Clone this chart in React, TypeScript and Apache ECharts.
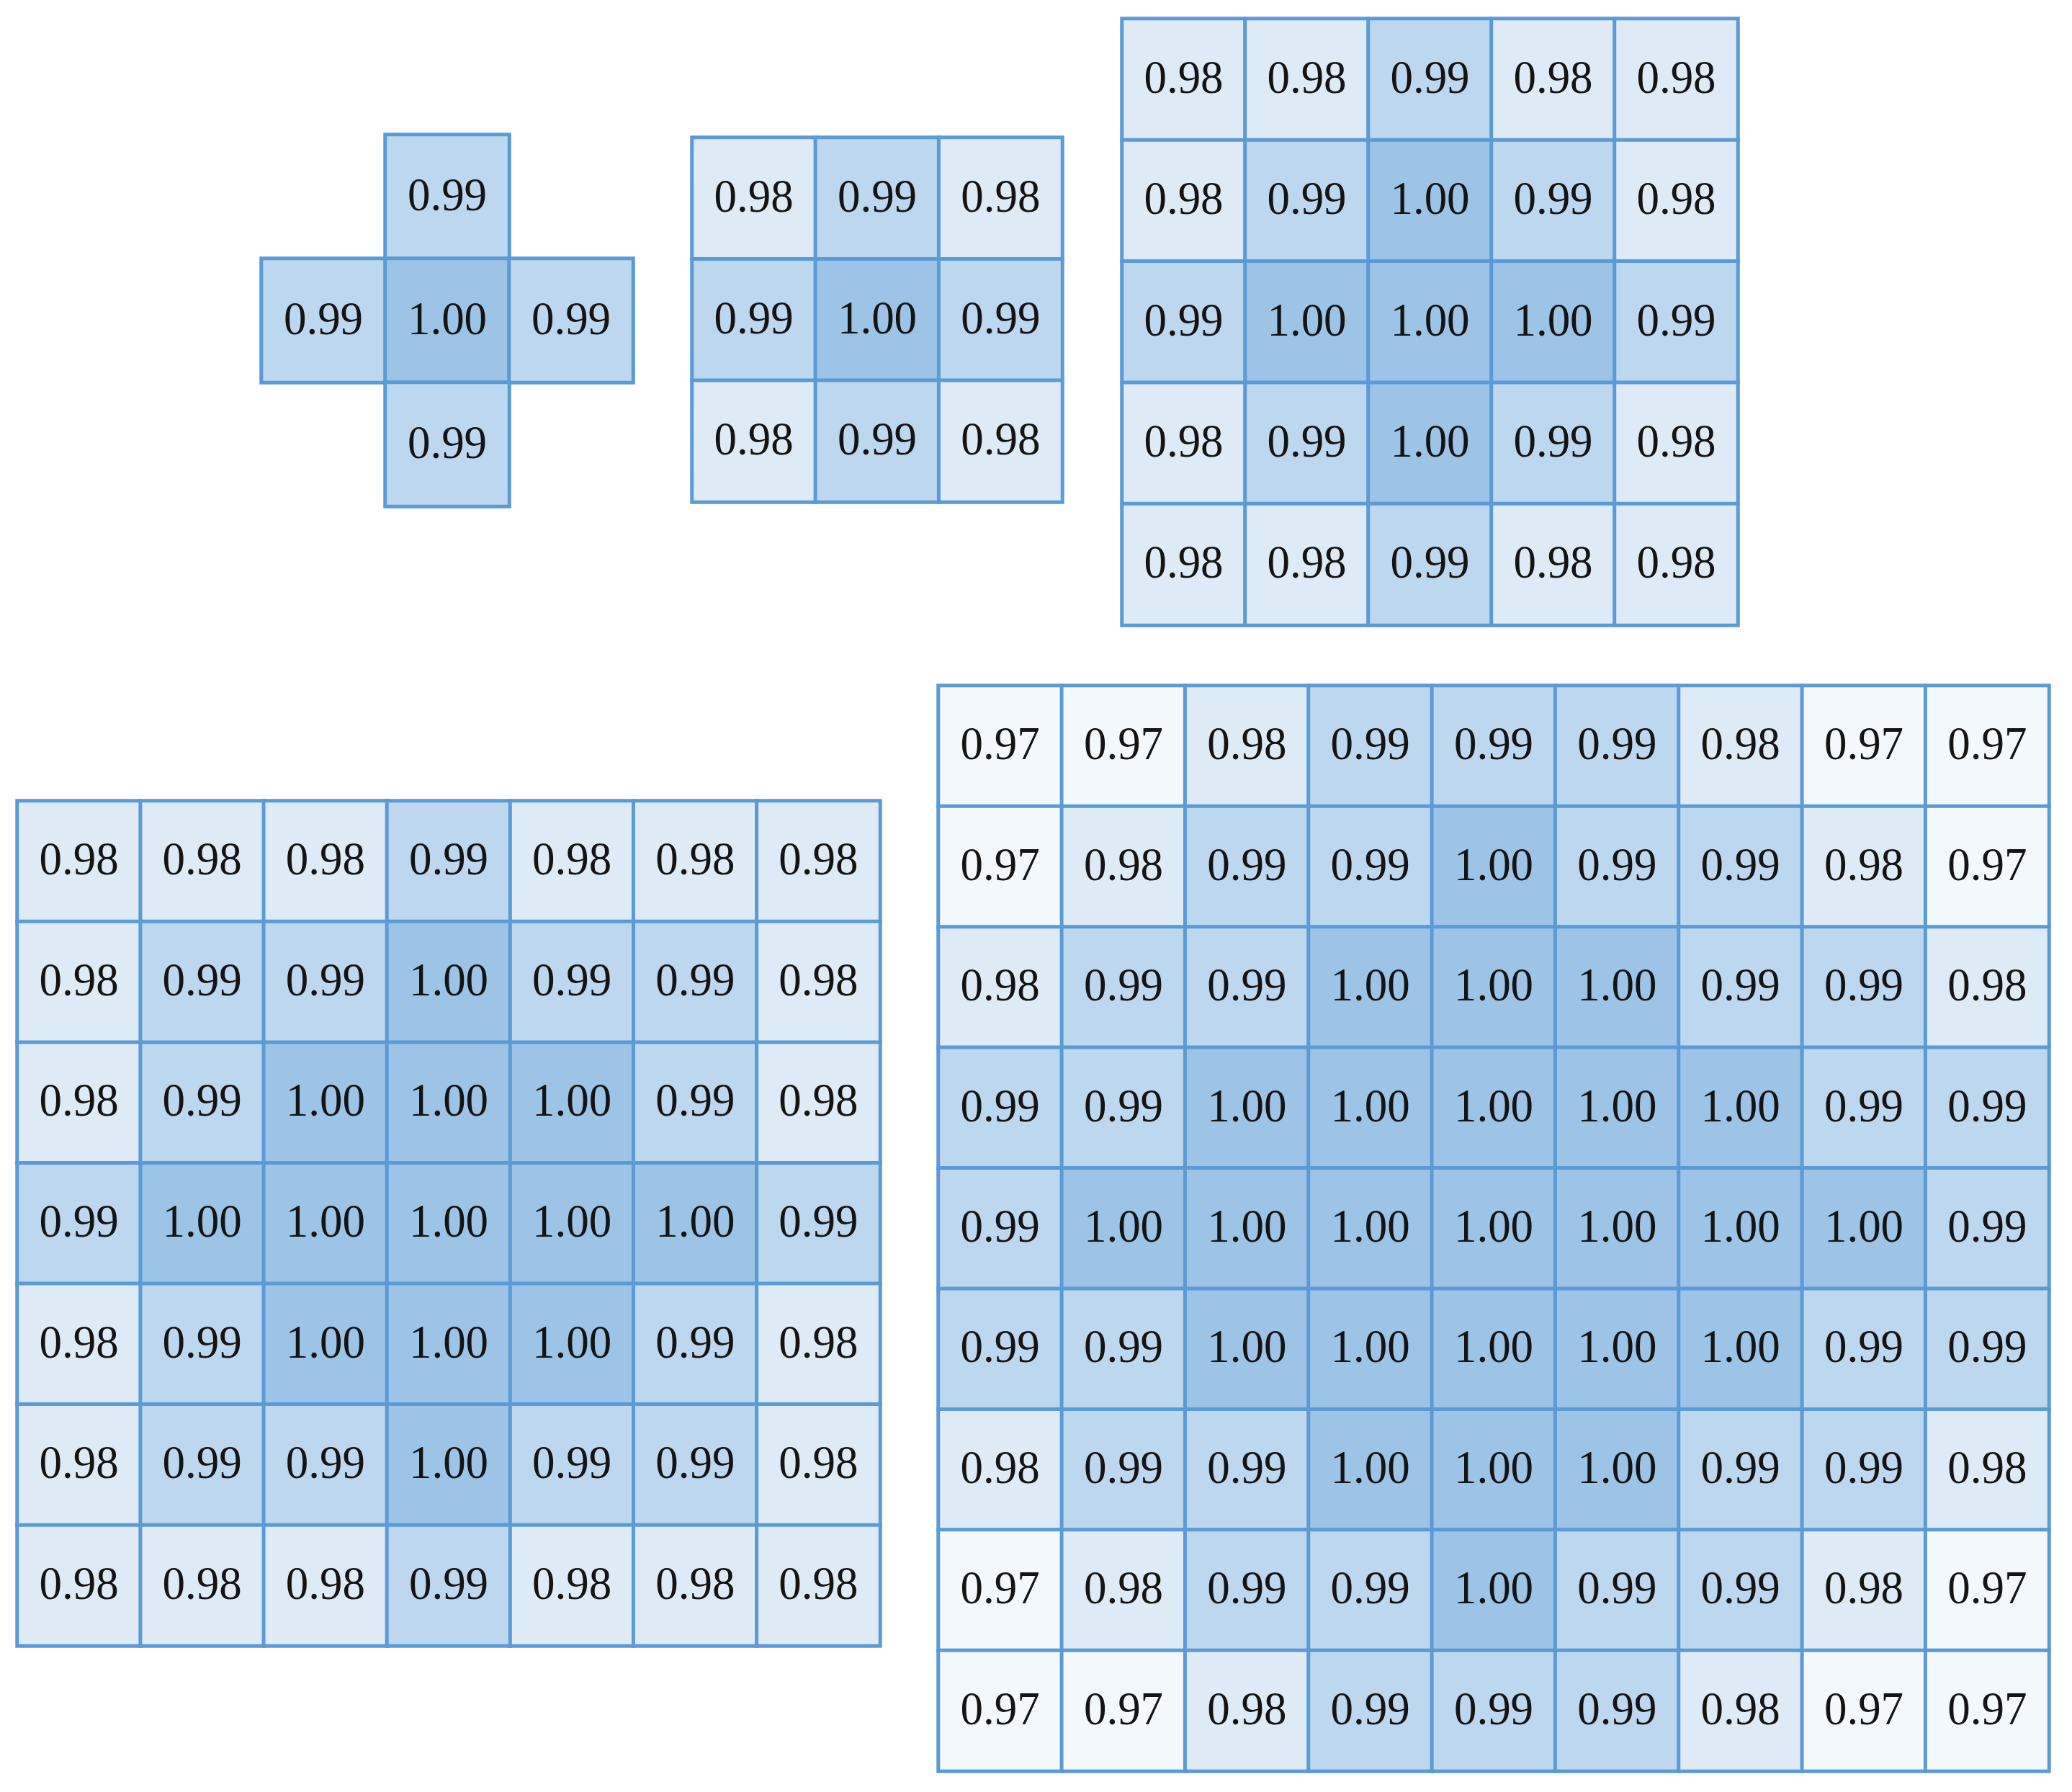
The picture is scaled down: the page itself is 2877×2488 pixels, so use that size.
import React, { useEffect, useRef } from "react";
import * as echarts from "echarts";

// ---- data (rows top to bottom, columns left to right; null = no cell) ----
const plusGrid: (number | null)[][] = [
  [null, 0.99, null],
  [0.99, 1.0, 0.99],
  [null, 0.99, null],
];

const grid3: number[][] = [
  [0.98, 0.99, 0.98],
  [0.99, 1.0, 0.99],
  [0.98, 0.99, 0.98],
];

const grid5: number[][] = [
  [0.98, 0.98, 0.99, 0.98, 0.98],
  [0.98, 0.99, 1.0, 0.99, 0.98],
  [0.99, 1.0, 1.0, 1.0, 0.99],
  [0.98, 0.99, 1.0, 0.99, 0.98],
  [0.98, 0.98, 0.99, 0.98, 0.98],
];

const grid7: number[][] = [
  [0.98, 0.98, 0.98, 0.99, 0.98, 0.98, 0.98],
  [0.98, 0.99, 0.99, 1.0, 0.99, 0.99, 0.98],
  [0.98, 0.99, 1.0, 1.0, 1.0, 0.99, 0.98],
  [0.99, 1.0, 1.0, 1.0, 1.0, 1.0, 0.99],
  [0.98, 0.99, 1.0, 1.0, 1.0, 0.99, 0.98],
  [0.98, 0.99, 0.99, 1.0, 0.99, 0.99, 0.98],
  [0.98, 0.98, 0.98, 0.99, 0.98, 0.98, 0.98],
];

const grid9: number[][] = [
  [0.97, 0.97, 0.98, 0.99, 0.99, 0.99, 0.98, 0.97, 0.97],
  [0.97, 0.98, 0.99, 0.99, 1.0, 0.99, 0.99, 0.98, 0.97],
  [0.98, 0.99, 0.99, 1.0, 1.0, 1.0, 0.99, 0.99, 0.98],
  [0.99, 0.99, 1.0, 1.0, 1.0, 1.0, 1.0, 0.99, 0.99],
  [0.99, 1.0, 1.0, 1.0, 1.0, 1.0, 1.0, 1.0, 0.99],
  [0.99, 0.99, 1.0, 1.0, 1.0, 1.0, 1.0, 0.99, 0.99],
  [0.98, 0.99, 0.99, 1.0, 1.0, 1.0, 0.99, 0.99, 0.98],
  [0.97, 0.98, 0.99, 0.99, 1.0, 0.99, 0.99, 0.98, 0.97],
  [0.97, 0.97, 0.98, 0.99, 0.99, 0.99, 0.98, 0.97, 0.97],
];

const matrices = [plusGrid, grid3, grid5, grid7, grid9];

// ---- layout / style ----
const layouts = [
  { left: 363, top: 187, width: 516, height: 516 },
  { left: 961, top: 191, width: 514, height: 506 },
  { left: 1558, top: 26, width: 855, height: 842 },
  { left: 24, top: 1112, width: 1198, height: 1173 },
  { left: 1303, top: 952, width: 1542, height: 1507 },
];

const FONT = "'Liberation Serif', 'DejaVu Serif', serif";

export default function App() {
  const ref = useRef<HTMLDivElement>(null);

  useEffect(() => {
    document.body.style.margin = "0";
    if (!ref.current) return;
    const chart = echarts.init(ref.current, undefined, { renderer: "svg" });

    const grids: any[] = [];
    const xAxes: any[] = [];
    const yAxes: any[] = [];
    const series: any[] = [];
    const heatIdx: number[] = [];

    matrices.forEach((m, gi) => {
      const L = layouts[gi];
      const n = m.length;
      const cats = Array.from({ length: n }, (_, i) => String(i));
      grids.push({ left: L.left, top: L.top, width: L.width, height: L.height, containLabel: false });
      xAxes.push({ type: "category", data: cats, gridIndex: gi, show: false });
      yAxes.push({ type: "category", data: cats, gridIndex: gi, show: false, inverse: true });

      const data: number[][] = [];
      m.forEach((row, r) =>
        row.forEach((v, c) => {
          if (v !== null) data.push([c, r, v]);
        })
      );

      heatIdx.push(series.length);
      series.push({
        type: "heatmap",
        xAxisIndex: gi,
        yAxisIndex: gi,
        data,
        itemStyle: { borderColor: "#5B9BD5", borderWidth: 5 },
        label: { show: false },
        emphasis: { disabled: true },
        z: 1,
      });

      series.push({
        type: "custom",
        xAxisIndex: gi,
        yAxisIndex: gi,
        data,
        z: 5,
        silent: true,
        renderItem: (_params: any, api: any) => {
          const pt = api.coord([api.value(0), api.value(1)]);
          return {
            type: "text",
            x: pt[0],
            y: pt[1] - 4,
            scaleY: 1.05,
            style: {
              text: Number(api.value(2)).toFixed(2),
              fontSize: 63,
              fontFamily: FONT,
              fill: "#141414",
              align: "center",
              verticalAlign: "middle",
            },
          };
        },
      });
    });

    chart.setOption({
      animation: false,
      backgroundColor: "#ffffff",
      visualMap: {
        type: "piecewise",
        show: false,
        dimension: 2,
        seriesIndex: heatIdx,
        pieces: [
          { gte: 0.995, color: "#9DC3E6" },
          { gte: 0.985, lt: 0.995, color: "#BDD7EE" },
          { gte: 0.975, lt: 0.985, color: "#DEEBF7" },
          { lt: 0.975, color: "#F3F8FC" },
        ],
      },
      grid: grids,
      xAxis: xAxes,
      yAxis: yAxes,
      series,
    });

    return () => chart.dispose();
  }, []);

  return (
    <div
      ref={ref}
      style={{ position: "absolute", left: 0, top: 0, width: 2877, height: 2488 }}
    />
  );
}
